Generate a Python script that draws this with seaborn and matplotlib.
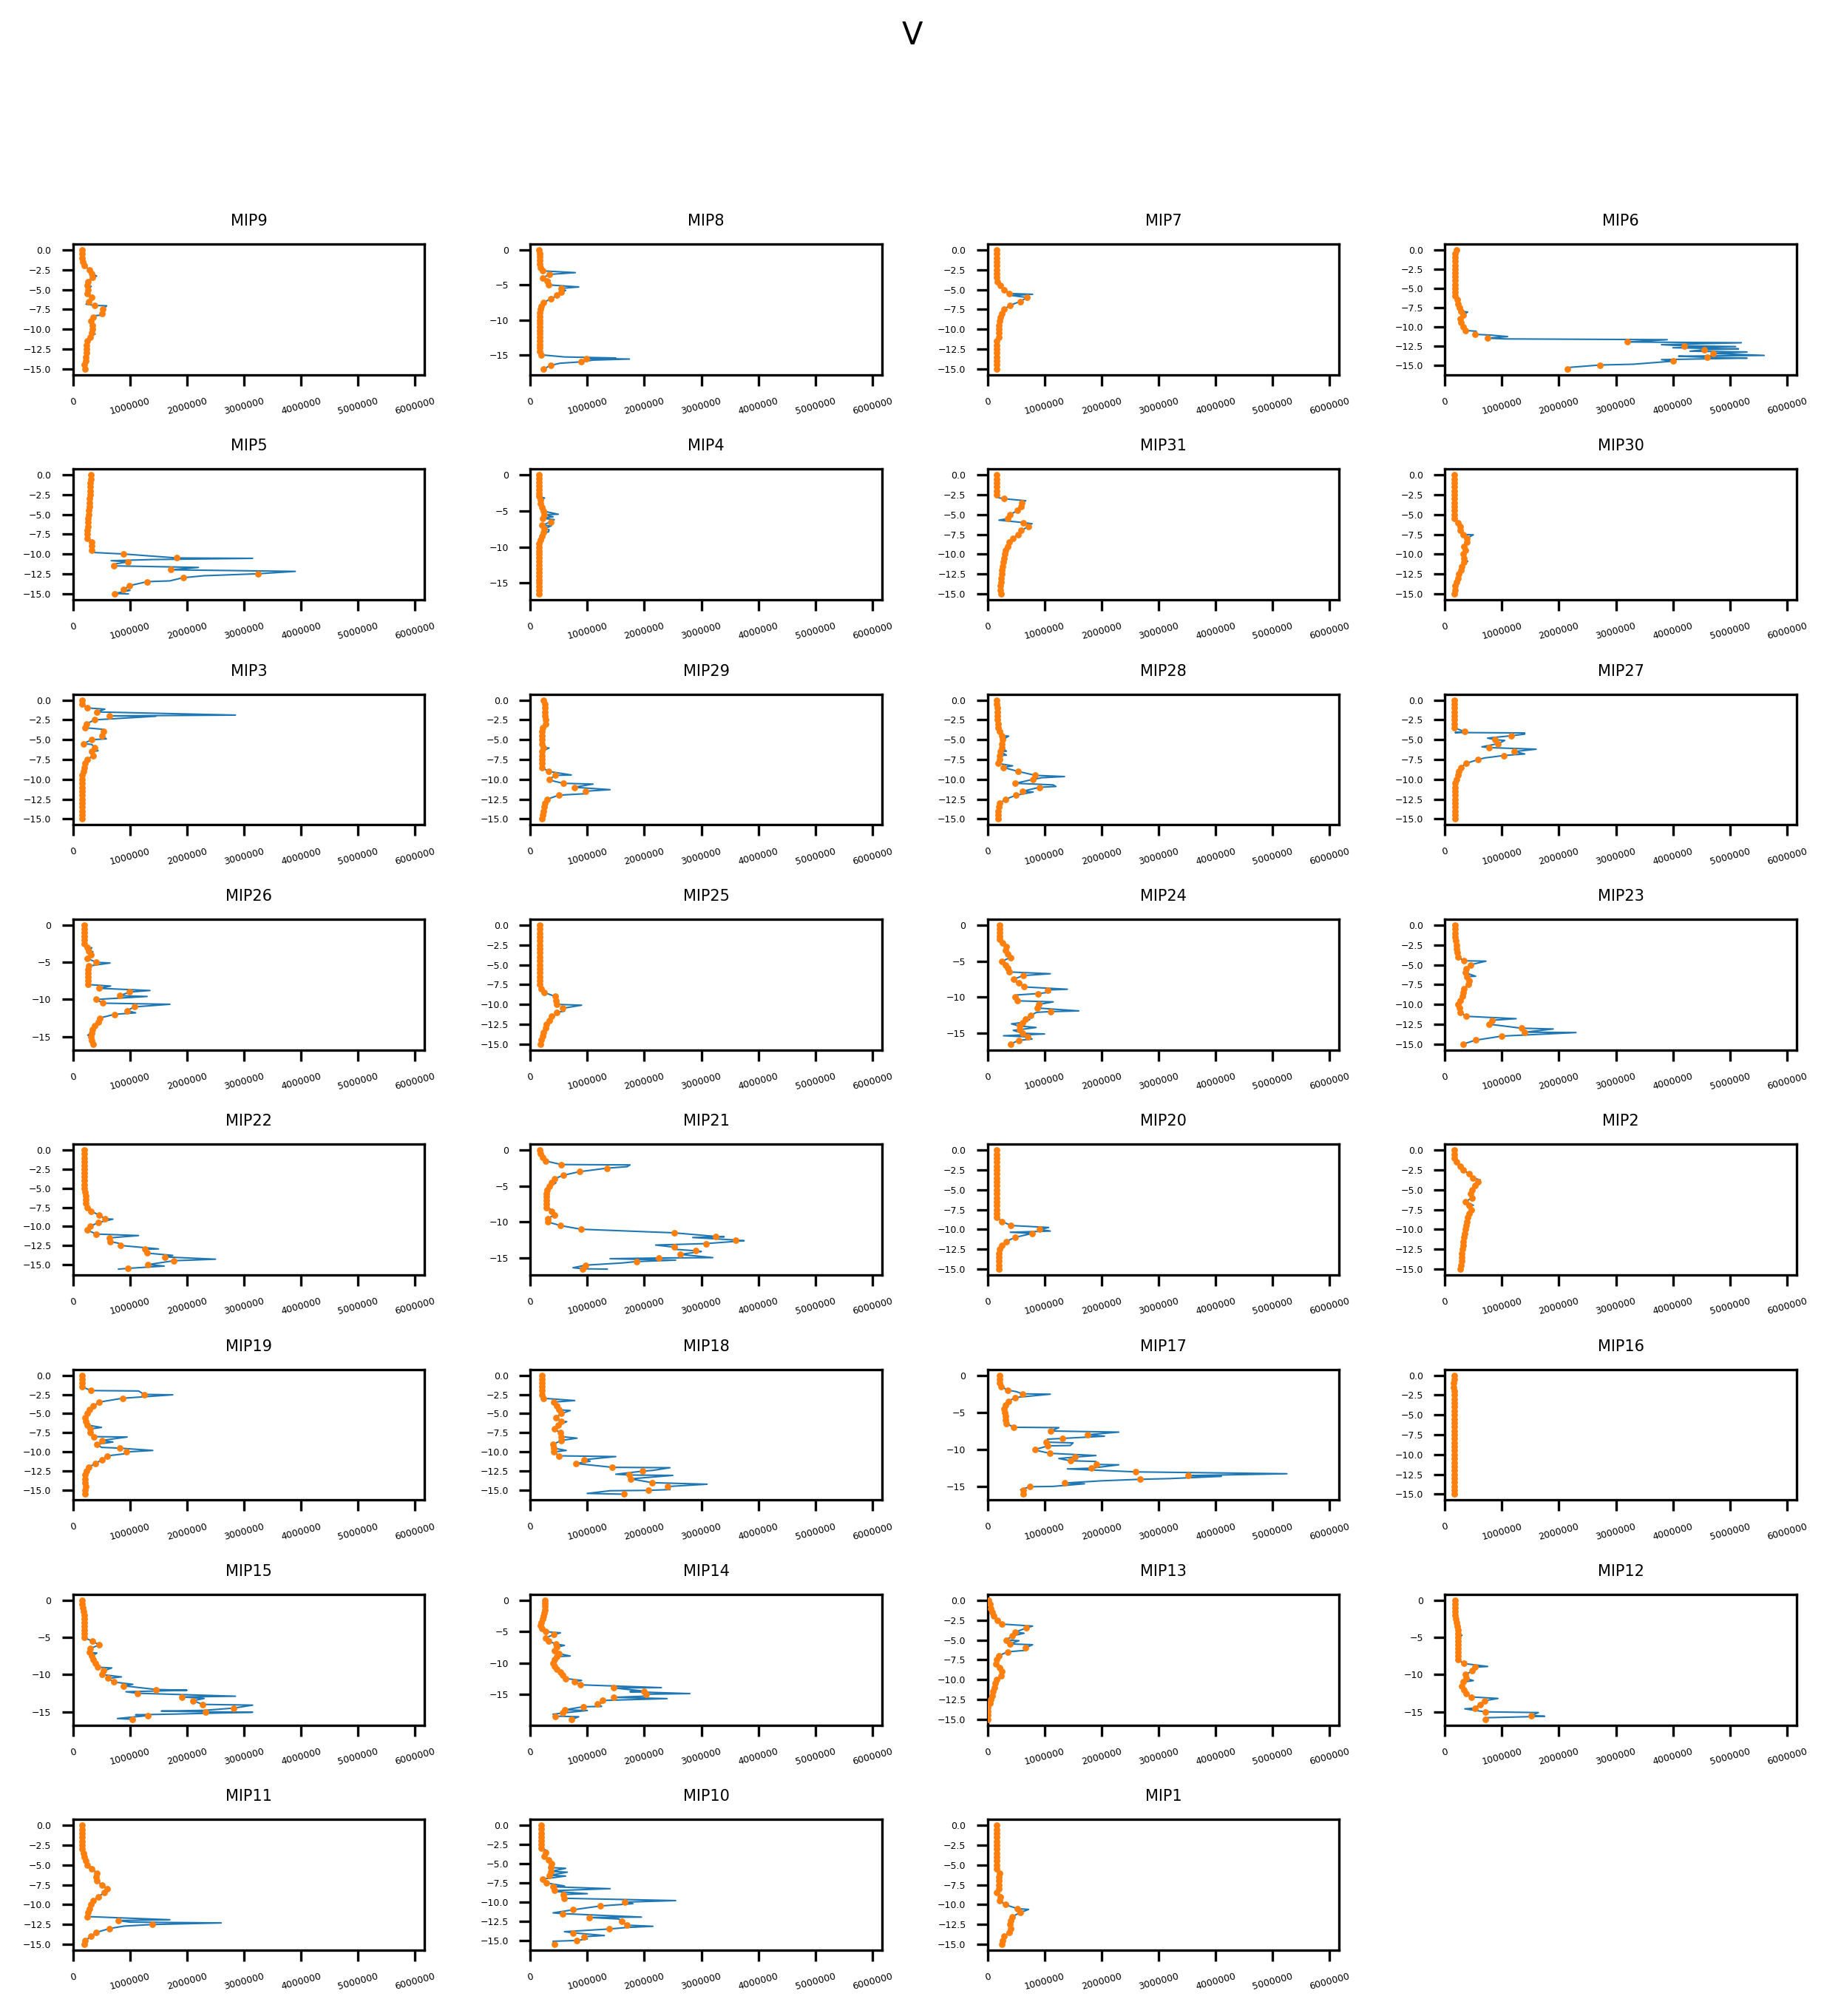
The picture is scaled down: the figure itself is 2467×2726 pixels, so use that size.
import numpy as np
import matplotlib
matplotlib.use("Agg")
import matplotlib.pyplot as plt
import seaborn as sns

# resampled profile points sit every 0.5 m below the surface
depth_grid = np.arange(0, -19.01, -0.5)

# orange points: values (in thousands) at the 0.5 m depth steps
# spikes: extra (depth, value in thousands) points of the raw blue profile
mip9_dots = [160, 160, 160, 170, 195, 290, 330, 335, 265, 255, 265, 255, 330, 275, 375, 525,
             510, 360, 315, 345, 335, 330, 305, 255, 235, 235, 235, 230, 220, 205, 210]
mip9_spikes = [(-3.3, 415), (-4.6, 320), (-6.85, 230), (-7.05, 590), (-8.2, 530), (-8.3, 380),
               (-10.6, 390)]

mip8_dots = [155, 160, 160, 160, 160, 175, 215, 340, 215, 290, 320, 545, 545, 470, 360, 235,
             195, 175, 165, 165, 160, 160, 160, 160, 160, 160, 160, 165, 165, 170, 195, 985,
             890, 360, 235]
mip8_spikes = [(-3.25, 790), (-4.4, 350), (-5.3, 850), (-5.8, 620), (-15.3, 600), (-15.45, 1500),
               (-15.6, 1740), (-15.75, 1100), (-16.2, 520)]

mip7_dots = [165, 165, 165, 165, 165, 165, 165, 165, 175, 225, 285, 380, 690, 575, 390, 285,
             255, 225, 205, 195, 195, 195, 195, 165, 165, 165, 165, 165, 165, 165, 165]
mip7_spikes = [(-5.6, 790), (-5.75, 420)]

mip6_dots = [205, 185, 185, 185, 185, 185, 185, 185, 185, 185, 185, 185, 185, 215, 235, 255,
             285, 320, 275, 285, 320, 360, 525, 750, 3200, 4200, 4550, 4700, 4600, 4000, 2720,
             2150]
mip6_spikes = [(-8.1, 400), (-10.6, 550), (-11.1, 800), (-11.3, 1100), (-11.6, 1050),
               (-11.7, 3900), (-12.1, 5200), (-12.35, 3800), (-12.6, 5100), (-12.75, 4000),
               (-12.9, 5150), (-13.2, 4300), (-13.3, 5300), (-13.75, 5600), (-13.85, 4100),
               (-14.1, 5300), (-14.3, 3800), (-14.9, 3300), (-15.3, 2200)]

mip5_dots = [310, 310, 305, 305, 300, 300, 295, 290, 285, 280, 270, 265, 260, 260, 255, 255,
             255, 330, 330, 330, 890, 1820, 965, 720, 1710, 3250, 1930, 1300, 995, 890, 730]
mip5_spikes = [(-9.8, 340), (-10.55, 3150), (-10.7, 1400), (-10.85, 670), (-11.3, 700),
               (-11.7, 2200), (-12.2, 3900), (-12.75, 2300), (-13.4, 1700), (-14.6, 1000),
               (-15.05, 970)]

mip4_dots = [155, 155, 155, 155, 155, 155, 155, 185, 175, 205, 225, 245, 215, 360, 205, 245,
             235, 205, 185, 155, 155, 155, 155, 155, 155, 155, 155, 155, 155, 155, 155, 155,
             155, 155]
mip4_spikes = [(-3.2, 250), (-5.45, 490), (-5.8, 400), (-6.2, 420), (-7.05, 370), (-7.6, 330),
               (-7.9, 320)]

mip31_dots = [155, 155, 155, 155, 155, 155, 285, 595, 585, 525, 390, 360, 625, 720, 585, 535,
              440, 380, 360, 320, 300, 285, 275, 265, 255, 245, 235, 235, 225, 225, 235]
mip31_spikes = [(-2.85, 180), (-3.25, 670), (-5.7, 200), (-6.15, 780), (-6.25, 700)]

mip30_dots = [165, 165, 165, 165, 165, 165, 165, 165, 165, 165, 165, 165, 235, 265, 275, 320,
              380, 380, 340, 360, 320, 330, 340, 300, 285, 245, 225, 205, 185, 175, 165]
mip30_spikes = [(-7.55, 500), (-10.9, 400)]

mip3_dots = [155, 165, 255, 420, 635, 380, 235, 215, 535, 505, 330, 185, 380, 330, 350, 255,
             215, 195, 185, 165, 165, 165, 165, 165, 165, 165, 165, 165, 165, 165, 155]
mip3_spikes = [(-1.15, 560), (-1.9, 2850), (-2.05, 1450), (-3.7, 540), (-4.9, 585), (-5.6, 330),
               (-6.4, 440)]

mip29_dots = [235, 255, 255, 255, 255, 265, 275, 215, 205, 205, 205, 205, 225, 205, 205, 205,
              205, 205, 320, 440, 330, 575, 770, 965, 500, 300, 255, 245, 225, 215, 205]
mip29_spikes = [(-6.05, 330), (-9.45, 720), (-10.1, 340), (-10.6, 1100), (-11.3, 1400),
                (-11.8, 1000)]

mip28_dots = [165, 165, 170, 170, 175, 175, 180, 185, 215, 245, 265, 255, 245, 225, 215, 205,
              185, 275, 535, 840, 800, 490, 915, 615, 500, 320, 215, 195, 185, 185, 185]
mip28_spikes = [(-4.55, 370), (-6.45, 330), (-6.95, 330), (-8.3, 440), (-9.65, 1350),
                (-9.8, 950), (-10.7, 1150), (-10.9, 1200), (-11.6, 800)]

mip27_dots = [165, 165, 165, 165, 165, 165, 165, 165, 350, 1170, 880, 935, 780, 1220, 1030, 585,
              370, 285, 245, 225, 205, 175, 175, 175, 175, 175, 175, 175, 175, 175, 175]
mip27_spikes = [(-4.1, 180), (-4.15, 1400), (-4.3, 1400), (-4.8, 750), (-5.1, 1050),
                (-5.9, 650), (-6.2, 1600), (-6.8, 1400), (-7.3, 700)]

mip26_dots = [195, 195, 195, 195, 195, 200, 255, 275, 310, 255, 410, 275, 260, 260, 265, 265,
              265, 460, 995, 820, 410, 525, 1080, 945, 730, 470, 450, 380, 340, 330, 320, 330,
              360]
mip26_spikes = [(-3.05, 330), (-3.6, 350), (-5.1, 650), (-8.2, 660), (-8.8, 1350), (-9.6, 1300),
                (-10.65, 1700), (-11.8, 1100), (-14.8, 260)]

mip25_dots = [165, 165, 165, 165, 165, 165, 165, 165, 165, 165, 165, 165, 165, 165, 165, 165,
              195, 245, 440, 450, 470, 565, 460, 370, 340, 285, 265, 235, 215, 195, 185]
mip25_spikes = [(-10.1, 900), (-10.85, 600), (-11.3, 450)]

mip24_dots = [215, 215, 215, 215, 215, 265, 330, 310, 360, 400, 255, 310, 360, 380, 625, 460,
              545, 645, 1050, 880, 490, 525, 900, 870, 1100, 760, 665, 615, 555, 565, 615, 700,
              545, 400]
mip24_spikes = [(-2.9, 310), (-3.3, 330), (-4.2, 380), (-6.75, 1100), (-7.6, 420), (-8.6, 700),
                (-8.9, 1400), (-9.3, 1100), (-9.7, 500), (-10.65, 1150), (-11.1, 940),
                (-11.9, 1600), (-12.1, 860), (-13.1, 740), (-13.7, 420), (-14.2, 850),
                (-14.6, 450), (-15.1, 1000), (-15.35, 280), (-15.8, 780)]

mip23_dots = [185, 185, 185, 185, 195, 205, 205, 215, 235, 330, 450, 370, 360, 380, 420, 410,
              340, 320, 310, 265, 235, 255, 275, 370, 830, 780, 1340, 1400, 995, 545, 320]
mip23_spikes = [(-4.55, 720), (-6.45, 540), (-7.2, 470), (-11.8, 1250), (-13.1, 1900),
                (-13.55, 2300), (-14.2, 820)]

mip22_dots = [195, 195, 195, 195, 195, 195, 195, 195, 195, 195, 195, 215, 220, 225, 225, 255,
              310, 460, 565, 440, 300, 255, 410, 645, 655, 840, 1260, 1300, 1610, 1770, 1320,
              965]
mip22_spikes = [(-9.05, 700), (-11.2, 1150), (-12.2, 800), (-12.95, 1500), (-13.8, 1750),
                (-14.3, 2500), (-14.8, 1500), (-15.2, 1600), (-15.6, 800)]

mip21_dots = [165, 185, 215, 265, 545, 1350, 860, 575, 420, 370, 340, 300, 285, 285, 285, 285,
              285, 370, 420, 310, 310, 535, 890, 2520, 3250, 3600, 3080, 2530, 2900, 2630, 2260,
              1860, 965, 915]
mip21_spikes = [(-2.05, 1750), (-2.3, 1700), (-4.55, 450), (-8.2, 350), (-12.05, 3400),
                (-12.15, 2850), (-12.6, 3750), (-13.2, 2200), (-13.8, 2550), (-14.1, 3000),
                (-14.95, 3200), (-15.1, 1400), (-15.3, 2550), (-15.7, 1600), (-16.2, 850),
                (-16.35, 750), (-16.55, 1350)]

mip20_dots = [165, 165, 165, 165, 165, 165, 165, 165, 165, 165, 165, 165, 165, 165, 165, 165,
              165, 165, 255, 410, 915, 780, 480, 330, 255, 215, 195, 195, 195, 195, 195]
mip20_spikes = [(-9.75, 1070), (-10.2, 1100), (-10.35, 400)]

mip2_dots = [165, 165, 165, 205, 265, 320, 430, 490, 585, 535, 480, 450, 480, 360, 420, 460,
             420, 400, 380, 370, 360, 350, 330, 325, 320, 310, 300, 300, 290, 280, 265]
mip2_spikes = [(-3.75, 620), (-4.3, 600), (-5.6, 420), (-6.95, 500)]

mip19_dots = [155, 155, 155, 155, 320, 1250, 870, 460, 360, 285, 255, 215, 225, 255, 300, 300,
              370, 505, 420, 820, 935, 605, 515, 390, 275, 235, 215, 215, 215, 225, 215, 215]
mip19_spikes = [(-2.05, 1150), (-2.55, 1750), (-6.8, 500), (-8.05, 950), (-8.7, 700),
                (-9.4, 500), (-9.8, 1400), (-10.2, 950)]

mip18_dots = [205, 205, 205, 205, 205, 205, 225, 410, 470, 500, 545, 450, 545, 490, 420, 525,
              545, 545, 400, 410, 410, 500, 945, 800, 1440, 1970, 1730, 1760, 2140, 2410, 2070,
              1650]
mip18_spikes = [(-3.3, 780), (-4.6, 700), (-6.05, 640), (-8.2, 820), (-9.8, 630), (-10.6, 1500),
                (-11.2, 1050), (-12.05, 2450), (-12.4, 2150), (-12.9, 1500), (-13.05, 2500),
                (-14.2, 3100), (-14.9, 2450), (-15.05, 1400), (-15.4, 1000)]

mip17_dots = [215, 215, 215, 235, 350, 615, 480, 370, 310, 285, 300, 310, 320, 330, 460, 1110,
              1750, 1310, 1030, 1060, 830, 1090, 1540, 1450, 1910, 1820, 2600, 3520, 2670, 1350,
              740, 625, 625]
mip17_spikes = [(-2.2, 500), (-2.55, 1100), (-7.05, 1250), (-7.65, 2300), (-8.2, 2050),
                (-8.6, 1050), (-9.1, 1500), (-9.45, 1450), (-10.05, 820), (-10.8, 1900),
                (-11.2, 1250), (-11.6, 1900), (-12.05, 2300), (-12.6, 1400), (-13.25, 5250),
                (-13.6, 4100), (-13.9, 3200), (-14.2, 2000), (-14.6, 1700), (-14.95, 1150),
                (-15.4, 580)]

mip16_dots = [165, 160, 150, 155, 170, 170, 170, 170, 170, 170, 170, 170, 170, 170, 165, 170,
              170, 170, 170, 170, 170, 170, 170, 165, 165, 165, 165, 165, 165, 165, 165]
mip16_spikes = [(-1.8, 140)]

mip15_dots = [165, 165, 175, 185, 195, 195, 195, 195, 195, 195, 195, 340, 460, 300, 285, 330,
              360, 390, 430, 535, 515, 615, 720, 890, 1460, 1130, 1910, 2110, 2270, 2820, 2330,
              1320, 1040]
mip15_spikes = [(-7.1, 420), (-9.1, 680), (-10.3, 850), (-11.3, 1050), (-12.1, 2000),
                (-12.3, 930), (-12.9, 2850), (-13.2, 2300), (-14.1, 3150), (-14.8, 2300),
                (-14.9, 1550), (-15.05, 3150), (-15.3, 1800), (-15.4, 1100), (-15.9, 780)]

mip14_dots = [255, 255, 255, 255, 245, 235, 215, 195, 185, 205, 265, 410, 265, 320, 450, 460,
              420, 500, 460, 420, 400, 420, 470, 525, 565, 625, 780, 880, 1460, 1990, 2030, 1460,
              1270, 1180, 925, 605, 565, 440, 730]
mip14_spikes = [(-5.2, 530), (-7.2, 600), (-8.9, 700), (-12.8, 900), (-13.95, 2300),
                (-14.6, 1750), (-14.9, 2800), (-15.3, 2050), (-15.7, 2400), (-16.3, 1300),
                (-16.95, 1250), (-17.6, 1000), (-18.2, 400), (-18.6, 850)]

mip13_dots = [20, 40, 60, 80, 110, 175, 255, 675, 490, 430, 330, 390, 665, 350, 195, 165, 145,
              205, 255, 235, 165, 135, 115, 90, 80, 60, 40, 10, 10, 10, 10]
mip13_spikes = [(-3.25, 790), (-4.15, 640), (-5.1, 550), (-5.6, 790), (-6.3, 680), (-13.2, 10)]

mip12_dots = [185, 175, 175, 175, 185, 195, 205, 215, 225, 235, 235, 235, 235, 235, 235, 235,
              235, 330, 525, 480, 360, 370, 320, 300, 340, 370, 470, 700, 615, 525, 705, 1520,
              705]
mip12_spikes = [(-4.7, 300), (-8.9, 750), (-10.8, 500), (-13.2, 930), (-14.6, 350),
                (-15.1, 1640), (-15.6, 1750), (-15.8, 700)]

mip11_dots = [155, 155, 155, 155, 155, 155, 155, 185, 205, 225, 255, 330, 420, 400, 420, 505,
              595, 545, 440, 360, 320, 285, 265, 255, 790, 1390, 645, 410, 320, 215, 195]
mip11_spikes = [(-11.9, 1700), (-12.2, 1000), (-12.3, 2600), (-12.7, 900)]

mip10_dots = [195, 195, 195, 195, 195, 195, 195, 265, 245, 320, 370, 360, 360, 340, 215, 285,
              400, 430, 585, 595, 1660, 1230, 750, 565, 1030, 1610, 1690, 1390, 750, 945, 810,
              430]
mip10_spikes = [(-3.3, 300), (-5.2, 340), (-5.6, 620), (-6.1, 650), (-6.6, 620), (-7.9, 600),
                (-8.25, 1400), (-8.6, 400), (-8.9, 1000), (-9.8, 2550), (-10.2, 1800),
                (-11.4, 400), (-11.95, 1950), (-12.2, 1550), (-13.15, 2150), (-13.3, 1700),
                (-13.85, 600), (-14.35, 1300), (-14.8, 1000), (-15.1, 400)]

mip1_dots = [165, 165, 165, 165, 165, 165, 165, 165, 165, 165, 165, 165, 205, 195, 195, 195,
             195, 165, 225, 215, 310, 525, 575, 430, 400, 390, 410, 380, 285, 265, 245]
mip1_spikes = [(-8.95, 260), (-10.6, 720), (-12.95, 450)]

# panel order as in the figure (names sorted in reverse)
panels = [
    ("MIP9", mip9_dots, mip9_spikes), ("MIP8", mip8_dots, mip8_spikes),
    ("MIP7", mip7_dots, mip7_spikes), ("MIP6", mip6_dots, mip6_spikes),
    ("MIP5", mip5_dots, mip5_spikes), ("MIP4", mip4_dots, mip4_spikes),
    ("MIP31", mip31_dots, mip31_spikes), ("MIP30", mip30_dots, mip30_spikes),
    ("MIP3", mip3_dots, mip3_spikes), ("MIP29", mip29_dots, mip29_spikes),
    ("MIP28", mip28_dots, mip28_spikes), ("MIP27", mip27_dots, mip27_spikes),
    ("MIP26", mip26_dots, mip26_spikes), ("MIP25", mip25_dots, mip25_spikes),
    ("MIP24", mip24_dots, mip24_spikes), ("MIP23", mip23_dots, mip23_spikes),
    ("MIP22", mip22_dots, mip22_spikes), ("MIP21", mip21_dots, mip21_spikes),
    ("MIP20", mip20_dots, mip20_spikes), ("MIP2", mip2_dots, mip2_spikes),
    ("MIP19", mip19_dots, mip19_spikes), ("MIP18", mip18_dots, mip18_spikes),
    ("MIP17", mip17_dots, mip17_spikes), ("MIP16", mip16_dots, mip16_spikes),
    ("MIP15", mip15_dots, mip15_spikes), ("MIP14", mip14_dots, mip14_spikes),
    ("MIP13", mip13_dots, mip13_spikes), ("MIP12", mip12_dots, mip12_spikes),
    ("MIP11", mip11_dots, mip11_spikes), ("MIP10", mip10_dots, mip10_spikes),
    ("MIP1", mip1_dots, mip1_spikes),
]

fig, axes = plt.subplots(8, 4, figsize=(2467 / 300, 2726 / 300), dpi=300)
fig.subplots_adjust(left=0.040, right=0.985, bottom=0.0326, top=0.879,
                    wspace=0.30, hspace=0.72)

for ax, (name, dots, spikes) in zip(axes.flat, panels):
    dot_val = np.array(dots) * 1000
    dot_dep = depth_grid[:len(dots)]

    # raw profile = resampled points plus the spikes, ordered by depth
    sp_dep = np.array([s[0] for s in spikes])
    sp_val = np.array([s[1] for s in spikes]) * 1000
    raw_dep = np.concatenate([dot_dep, sp_dep])
    raw_val = np.concatenate([dot_val, sp_val])
    order = np.argsort(-raw_dep, kind="stable")

    sns.lineplot(x=raw_val[order], y=raw_dep[order], sort=False, estimator=None,
                 ax=ax, color="C0", lw=0.5)
    sns.scatterplot(x=dot_val, y=dot_dep, ax=ax, color="C1", s=4.5, linewidth=0, zorder=3)

    ax.set_title(name, fontsize=5)
    ax.set_xlim(0, 6.17e6)
    ax.ticklabel_format(axis="x", style="plain")
    ax.tick_params(labelsize=3)
    ax.tick_params(axis="x", labelrotation=15)
    ax.set_xlabel("")
    ax.set_ylabel("")

axes.flat[-1].remove()

fig.suptitle("V", fontsize=10, y=0.99)
fig.savefig("out.png", dpi=300)
